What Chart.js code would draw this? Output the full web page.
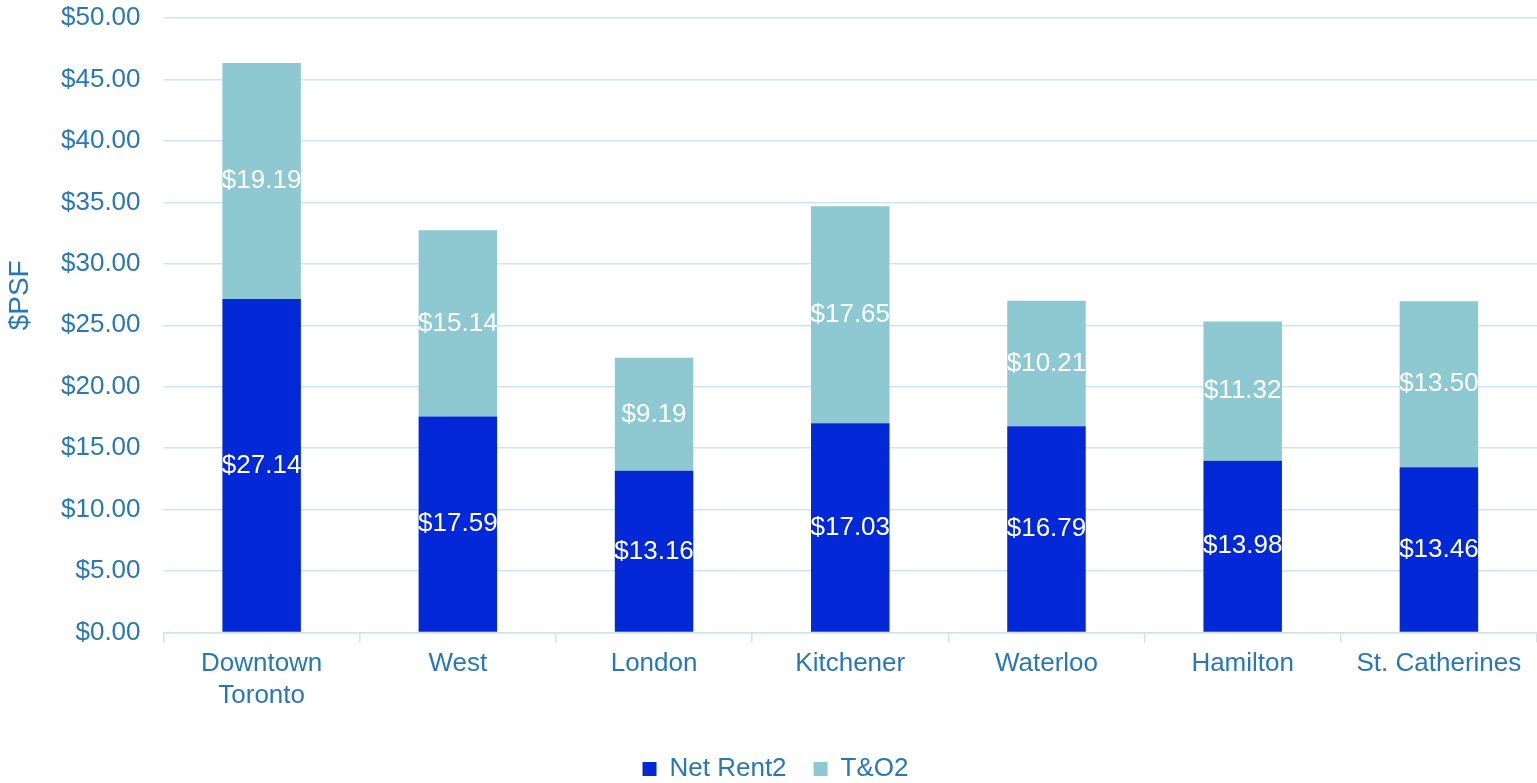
<!DOCTYPE html>
<html>
<head>
<meta charset="utf-8">
<title>Net Rent and T&O by Market</title>
<script src="https://cdn.jsdelivr.net/npm/chart.js@4/dist/chart.umd.min.js"></script>
<style>
  html, body { margin: 0; padding: 0; background: #fff; }
  #wrap { width: 1537px; height: 783px; position: relative; }
</style>
</head>
<body>
<div id="wrap"><canvas id="rentChart"></canvas></div>
<script>
// Markets and $PSF components
const markets = [['Downtown', 'Toronto'], 'West', 'London', 'Kitchener', 'Waterloo', 'Hamilton', 'St. Catherines'];
const netRent = [27.14, 17.59, 13.16, 17.03, 16.79, 13.98, 13.46];
const taxesOps = [19.19, 15.14, 9.19, 17.65, 10.21, 11.32, 13.50];
const yTicks = [0, 5, 10, 15, 20, 25, 30, 35, 40, 45, 50];

const textBlue = '#2878b8';
const gridBlue = '#cde3f6';
const font = 'Liberation Sans, Arial, sans-serif';

// Writes each segment's value in the middle of its bar piece
const segmentLabels = {
    id: 'segmentLabels',
    afterDatasetsDraw(chart) {
        const ctx = chart.ctx;
        ctx.save();
        ctx.fillStyle = '#ffffff';
        ctx.font = '26px ' + font;
        ctx.textAlign = 'center';
        ctx.textBaseline = 'middle';
        chart.data.datasets.forEach((ds, i) => {
            chart.getDatasetMeta(i).data.forEach((bar, j) => {
                const mid = (bar.y + bar.base) / 2;
                ctx.fillText('$' + ds.data[j].toFixed(2), bar.x, mid);
            });
        });
        ctx.restore();
    }
};

// Rotated y-axis title, sitting a bit above the middle of the plot
const yTitle = {
    id: 'yTitle',
    afterDraw(chart) {
        const ctx = chart.ctx;
        const area = chart.chartArea;
        ctx.save();
        ctx.translate(20, (area.top + area.bottom) / 2 - 30);
        ctx.rotate(-Math.PI / 2);
        ctx.fillStyle = textBlue;
        ctx.font = '28px ' + font;
        ctx.textAlign = 'center';
        ctx.textBaseline = 'middle';
        ctx.fillText('$PSF', 0, 0);
        ctx.restore();
    }
};

const ctx = document.getElementById('rentChart').getContext('2d');
new Chart(ctx, {
    type: 'bar',
    data: {
        labels: markets,
        datasets: [{
            label: 'Net Rent2',
            data: netRent,
            backgroundColor: '#0228d8',
            barPercentage: 0.8,
            categoryPercentage: 0.5
        }, {
            label: 'T&O2',
            data: taxesOps,
            backgroundColor: '#8ec9d1',
            barPercentage: 0.8,
            categoryPercentage: 0.5
        }]
    },
    options: {
        responsive: true,
        maintainAspectRatio: false,
        animation: false,
        layout: { padding: { top: 0, right: 0, left: 14, bottom: -9 } },
        plugins: {
            legend: {
                position: 'bottom',
                labels: {
                    color: textBlue,
                    font: { family: font, size: 26 },
                    boxWidth: 14,
                    boxHeight: 14,
                    padding: 27
                }
            },
            tooltip: { enabled: false }
        },
        scales: {
            x: {
                stacked: true,
                grid: {
                    drawOnChartArea: false,
                    color: gridBlue,
                    tickLength: 10,
                    lineWidth: 1.5
                },
                border: { color: gridBlue, width: 1.5 },
                ticks: {
                    color: textBlue,
                    font: { family: font, size: 26 },
                    padding: 6,
                    maxRotation: 0
                },
                // leave room between the category names and the legend
                afterFit: axis => { axis.height += 12; }
            },
            y: {
                stacked: true,
                min: 0,
                max: 50,
                afterBuildTicks: axis => { axis.ticks = yTicks.map(v => ({ value: v })); },
                // room for the title on the left, only half a label above the top tick
                afterFit: axis => {
                    axis.width += 24;
                    axis.paddingTop = 18;
                    axis.paddingBottom = 16;
                },
                grid: { color: gridBlue, lineWidth: 1.5, drawTicks: false },
                border: { display: false },
                ticks: {
                    color: textBlue,
                    font: { family: font, size: 26 },
                    padding: 23,
                    callback: v => '$' + Number(v).toFixed(2)
                }
            }
        }
    },
    plugins: [segmentLabels, yTitle]
});
</script>
</body>
</html>
